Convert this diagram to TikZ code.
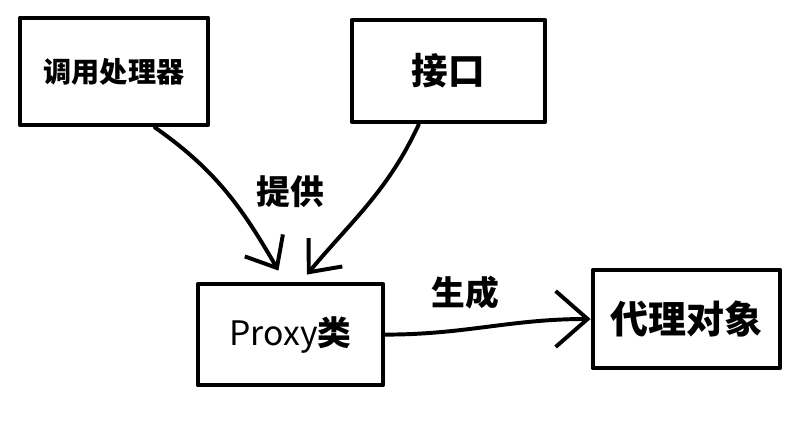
\documentclass[tikz,border=0pt]{standalone}
\usepackage{fontspec}
\usetikzlibrary{arrows.meta}
\newfontfamily\cjk{Noto Sans CJK SC}
\tikzset{
  box/.style={draw, line width=3.3pt, line join=round, inner sep=0pt},
  arr/.style={line width=2.8pt, line cap=round,
    -{Straight Barb[length=0.65cm,width=1.1cm,line width=2.8pt]}},
  lbl/.style={font=\cjk\bfseries\fontsize{24}{28}\selectfont},
}

\begin{document}
\begin{tikzpicture}[x=1cm,y=1cm]
\useasboundingbox (0,0) rectangle (20.15,10.625);
\node[box,minimum width=4.7cm,minimum height=2.675cm,
  font=\cjk\bfseries\fontsize{20}{24}\selectfont] (call) at (2.85,8.84) {调用处理器};
\node[box,minimum width=4.825cm,minimum height=2.55cm,
  font=\cjk\bfseries\fontsize{26}{30}\selectfont] (iface) at (11.21,8.85) {接口};
\node[box,minimum width=4.625cm,minimum height=2.525cm,
  font=\cjk\fontsize{24}{28}\selectfont] (proxy) at (7.26,2.26) {Proxy\textbf{类}};
\node[box,minimum width=4.675cm,minimum height=2.45cm,
  font=\cjk\bfseries\fontsize{27}{30}\selectfont] (agent) at (17.16,2.65) {代理对象};
\node[lbl] (give) at (7.25,5.83) {提供};
\node[lbl] (make) at (11.63,3.3) {生成};
\draw[arr] (call.-54) to[out=-35,in=120] ([xshift=-0.3cm,yshift=0.28cm]proxy.north);
\draw[arr] (iface.-119) to[out=-115,in=50] ([xshift=0.41cm,yshift=0.18cm]proxy.north);
\draw[arr,-{Straight Barb[length=0.8cm,width=1.4cm,line width=2.8pt]}]
  (proxy.east) to[out=0,in=180] (agent.west);
\end{tikzpicture}
\end{document}
